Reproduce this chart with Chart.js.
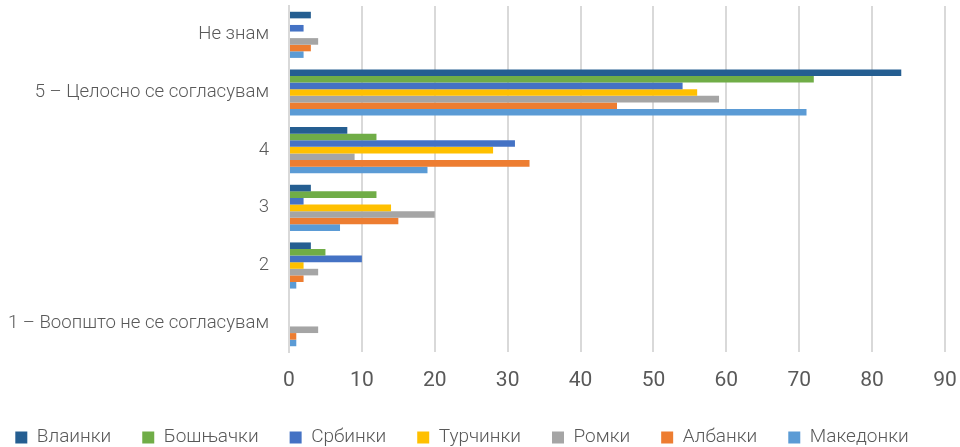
<!DOCTYPE html>
<html>
<head>
<meta charset="utf-8">
<script src="https://cdn.jsdelivr.net/npm/chart.js@4/dist/chart.umd.min.js"></script>
<style>
  html, body { margin: 0; padding: 0; background: #fff; }
  #wrap { width: 960px; height: 447px; }
</style>
</head>
<body>
<div id="wrap"><canvas id="answersChart"></canvas></div>
<script>
const categories = ["Не знам", "5 – Целосно се согласувам", "4", "3", "2", "1 – Воопшто не се согласувам"];
const xTicks = [0, 10, 20, 30, 40, 50, 60, 70, 80, 90];

const vlainki    = [3, 84, 8, 3, 3, 0];
const boshnjachki = [0, 72, 12, 12, 5, 0];
const srbinki    = [2, 54, 31, 2, 10, 0];
const turchinki  = [0, 56, 28, 14, 2, 0];
const romki      = [4, 59, 9, 20, 4, 4];
const albanki    = [3, 45, 33, 15, 2, 1];
const makedonki  = [2, 71, 19, 7, 1, 1];

const series = [
  { label: "Влаинки", data: vlainki, color: "#255E91" },
  { label: "Бошњачки", data: boshnjachki, color: "#70AD47" },
  { label: "Србинки", data: srbinki, color: "#4472C4" },
  { label: "Турчинки", data: turchinki, color: "#FFC000" },
  { label: "Ромки", data: romki, color: "#A5A5A5" },
  { label: "Албанки", data: albanki, color: "#ED7D31" },
  { label: "Македонки", data: makedonki, color: "#5B9BD5" }
];

const font = "'Roboto', 'Liberation Sans', sans-serif";
const grey = "#595959";

// nudge the legend row a bit to the left of centre
const legendShift = {
  id: "legendShift",
  afterLayout(chart) {
    chart.legend.left -= 18;
    chart.legend.right -= 18;
  }
};

const ctx = document.getElementById("answersChart").getContext("2d");
new Chart(ctx, {
  type: "bar",
  data: {
    labels: categories,
    datasets: series.map(s => ({
      label: s.label,
      data: s.data,
      backgroundColor: s.color,
      borderWidth: 0,
      categoryPercentage: 0.8,
      barPercentage: 1.0
    }))
  },
  options: {
    indexAxis: "y",
    responsive: true,
    maintainAspectRatio: false,
    animation: false,
    layout: { padding: { left: 0, right: 0, top: 6, bottom: -10 } },
    plugins: {
      tooltip: { enabled: false },
      legend: {
        position: "bottom",
        labels: {
          color: grey,
          font: { size: 19, weight: "300", family: font },
          boxWidth: 12,
          boxHeight: 12,
          padding: 31
        }
      }
    },
    scales: {
      x: {
        min: 0,
        max: 90,
        afterBuildTicks: axis => { axis.ticks = xTicks.map(v => ({ value: v })); },
        grid: { color: "#d9d9d9", lineWidth: 2, drawTicks: false },
        border: { display: false },
        ticks: {
          color: grey,
          padding: 16,
          font: { size: 21, weight: "400", family: font }
        },
        afterFit: axis => {
          axis.height = 45;
          axis.paddingLeft = 0;
          axis.paddingRight = 15;
        }
      },
      y: {
        grid: { display: false, drawTicks: false },
        border: { color: "#d9d9d9", width: 2 },
        ticks: {
          color: grey,
          padding: 20,
          font: { size: 18.6, weight: "300", family: font }
        },
        afterFit: axis => {
          axis.width = 289;
          axis.paddingTop = 0;
          axis.paddingBottom = 0;
        }
      }
    }
  },
  plugins: [legendShift]
});
</script>
</body>
</html>
